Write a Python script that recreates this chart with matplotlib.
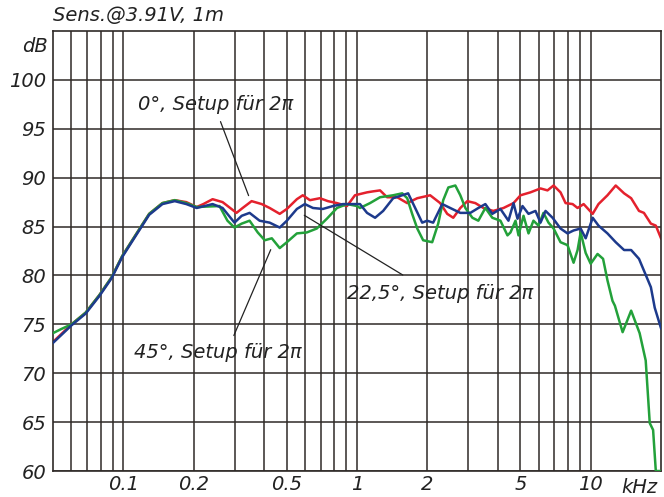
import matplotlib
matplotlib.use("Agg")
import matplotlib.pyplot as plt

# frequency response, values (kHz, dB)
f_red = [0.05, 0.06, 0.069, 0.079, 0.089, 0.099, 0.114, 0.129, 0.147, 0.166, 0.186, 0.206,
         0.22, 0.241, 0.266, 0.305, 0.324, 0.354, 0.391, 0.423, 0.467, 0.501, 0.553, 0.586,
         0.629, 0.694, 0.751, 0.821, 0.906, 0.98, 1.104, 1.172, 1.255, 1.345, 1.485, 1.64,
         1.811, 2.056, 2.27, 2.433, 2.582, 2.768, 2.966, 3.21, 3.475, 3.83, 4.236, 4.675,
         5.01, 5.525, 6.1, 6.535, 6.94, 7.43, 7.81, 8.37, 8.79, 9.33, 10.2, 10.8, 11.8,
         12.8, 13.9, 14.9, 16.1, 16.9, 18.1, 19.0, 20.0]
db_red = [73.2, 75.0, 76.2, 78.0, 79.8, 82.0, 84.3, 86.3, 87.4, 87.7, 87.5, 87.0,
          87.3, 87.8, 87.5, 86.4, 86.9, 87.6, 87.3, 86.9, 86.3, 86.8, 87.8, 88.2,
          87.7, 87.9, 87.6, 87.4, 87.1, 88.2, 88.5, 88.6, 88.7, 88.0, 88.0, 87.4,
          87.9, 88.2, 87.4, 86.3, 85.9, 86.9, 87.6, 87.4, 86.9, 86.6, 86.9, 87.4,
          88.2, 88.5, 88.9, 88.7, 89.2, 88.5, 87.4, 87.3, 86.9, 87.3, 86.3, 87.3, 88.2,
          89.2, 88.4, 87.9, 86.6, 86.4, 85.3, 85.1, 83.8]

f_blue = [0.05, 0.06, 0.069, 0.079, 0.089, 0.099, 0.114, 0.129, 0.147, 0.166, 0.186, 0.206,
          0.241, 0.266, 0.299, 0.321, 0.347, 0.383, 0.423, 0.467, 0.501, 0.553, 0.598,
          0.648, 0.714, 0.789, 0.871, 1.0, 1.03, 1.104, 1.195, 1.294, 1.428, 1.561, 1.655,
          1.774, 1.901, 1.996, 2.118, 2.317, 2.506, 2.768, 3.055, 3.306, 3.543, 3.793,
          4.11, 4.448, 4.675, 4.863, 5.109, 5.42, 5.806, 6.1, 6.41, 6.87, 7.43, 7.96,
          8.45, 9.06, 9.52, 10.2, 10.8, 11.8, 12.8, 13.9, 14.9, 16.1, 16.9, 18.1, 18.8, 20.0]
db_blue = [73.1, 74.9, 76.1, 77.9, 79.7, 81.9, 84.2, 86.2, 87.3, 87.6, 87.3, 86.9,
           87.3, 86.9, 85.4, 86.1, 86.4, 85.6, 85.4, 84.9, 85.6, 86.8, 87.3,
           86.9, 86.8, 87.1, 87.3, 87.3, 87.3, 86.4, 85.9, 86.6, 87.9, 88.2, 88.4,
           86.9, 85.4, 85.6, 85.4, 87.3, 86.9, 86.4, 86.4, 86.9, 87.3, 86.3,
           86.8, 85.6, 87.4, 85.8, 87.1, 86.3, 86.6, 85.4, 86.6, 85.9, 84.8, 84.3,
           84.6, 84.8, 83.8, 85.9, 85.1, 84.3, 83.4, 82.6, 82.6, 81.7, 80.5, 78.8, 76.7, 74.6]

f_green = [0.05, 0.054, 0.06, 0.069, 0.079, 0.089, 0.099, 0.114, 0.129, 0.147, 0.166, 0.186,
           0.206, 0.258, 0.279, 0.299, 0.321, 0.347, 0.376, 0.403, 0.432, 0.467, 0.501,
           0.553, 0.61, 0.673, 0.743, 0.821, 0.906, 1.0, 1.03, 1.137, 1.255, 1.428, 1.561,
           1.64, 1.722, 1.811, 1.919, 2.098, 2.226, 2.339, 2.46, 2.635, 2.768, 2.909, 3.118,
           3.306, 3.543, 3.793, 4.11, 4.405, 4.538, 4.768, 4.911, 5.16, 5.42, 5.69, 5.98,
           6.28, 6.6, 6.94, 7.43, 7.96, 8.45, 8.79, 9.06, 9.52, 10.0, 10.7, 11.3, 11.8,
           12.4, 12.7, 13.7, 14.9, 16.2, 17.2, 17.9, 18.5, 19.0, 20.0]
db_green = [74.1, 74.5, 75.0, 76.2, 78.0, 79.8, 82.0, 84.3, 86.3, 87.4, 87.7, 87.4,
            87.0, 87.1, 85.6, 84.9, 85.3, 85.6, 84.4, 83.6, 83.8, 82.8, 83.4,
            84.3, 84.4, 84.8, 85.8, 86.9, 87.3, 87.1, 86.9, 87.4, 88.0, 88.2, 88.4,
            87.9, 86.3, 84.8, 83.6, 83.4, 85.3, 87.7, 89.0, 89.2, 88.2, 86.9, 85.9,
            85.6, 86.9, 85.9, 85.6, 84.1, 84.4, 85.6, 84.1, 86.1, 84.3, 85.6, 85.1,
            86.4, 85.4, 84.8, 83.4, 83.1, 81.3, 82.6, 84.4, 82.3, 81.2, 82.2, 81.7, 79.5,
            77.4, 76.9, 74.2, 76.4, 74.1, 71.3, 64.9, 64.2, 60.0, 60.0]

x_ticks = [0.1, 0.2, 0.5, 1, 2, 5, 10]
x_labels = ['0.1', '0.2', '0.5', '1', '2', '5', '10']
x_minor = [0.06, 0.07, 0.08, 0.09, 0.3, 0.4, 0.6, 0.7, 0.8, 0.9,
           3, 4, 6, 7, 8, 9]
y_ticks = [60, 65, 70, 75, 80, 85, 90, 95, 100]

FONT = 'DejaVu Sans'
GRID = '#2f2a27'

fig = plt.figure(figsize=(6.64, 4.97), dpi=100)
ax = fig.add_axes([0.0798, 0.0523, 0.9157, 0.8853])

ax.plot(f_green, db_green, color='#23a13a', lw=1.8, zorder=3)
ax.plot(f_blue, db_blue, color='#1d3a8c', lw=1.8, zorder=4)
ax.plot(f_red, db_red, color='#e4212d', lw=1.8, zorder=2)

ax.set_xscale('log')
ax.set_xlim(0.05, 20)
ax.set_ylim(60, 105)
ax.set_xticks(x_ticks)
ax.set_xticklabels(x_labels)
ax.set_xticks(x_minor, minor=True)
ax.set_xticklabels([], minor=True)
ax.set_yticks(y_ticks)
ax.set_yticklabels([str(v) for v in y_ticks])
ax.tick_params(which='both', length=0)
ax.tick_params(axis='y', pad=5)
ax.tick_params(axis='x', pad=3)
for lab in ax.get_xticklabels() + ax.get_yticklabels():
    lab.set_fontfamily(FONT)
    lab.set_fontstyle('italic')
    lab.set_fontsize(14)
    lab.set_color('#222222')

ax.grid(True, which='both', color=GRID, lw=1.1)
ax.set_axisbelow(True)
for s in ax.spines.values():
    s.set_color(GRID)
    s.set_linewidth(1.2)

txt = dict(family=FONT, style='italic', fontsize=14, color='#222222')
ax.text(-0.008, 0.965, 'dB', transform=ax.transAxes, ha='right', va='center', **txt)
ax.text(0.965, -0.038, 'kHz', transform=ax.transAxes, ha='center', va='center', **txt)
fig.text(0.0798, 0.968, 'Sens.@3.91V, 1m', ha='left', va='center', **txt)

# leader lines and labels
line = dict(arrowstyle='-', color='#222222', lw=0.9)
ax.annotate('', xy=(0.347, 87.9), xytext=(0.258, 96.0), arrowprops=line)
ax.text(0.115, 97.5, '0°, Setup für 2π', ha='left', va='center', **txt)
ax.annotate('', xy=(0.581, 86.3), xytext=(1.607, 79.9), arrowprops=line)
ax.text(0.906, 78.2, '22,5°, Setup für 2π', ha='left', va='center', **txt)
ax.annotate('', xy=(0.432, 82.9), xytext=(0.294, 73.6), arrowprops=line)
ax.text(0.1115, 72.1, '45°, Setup für 2π', ha='left', va='center', **txt)

fig.savefig('out.png', dpi=100)
